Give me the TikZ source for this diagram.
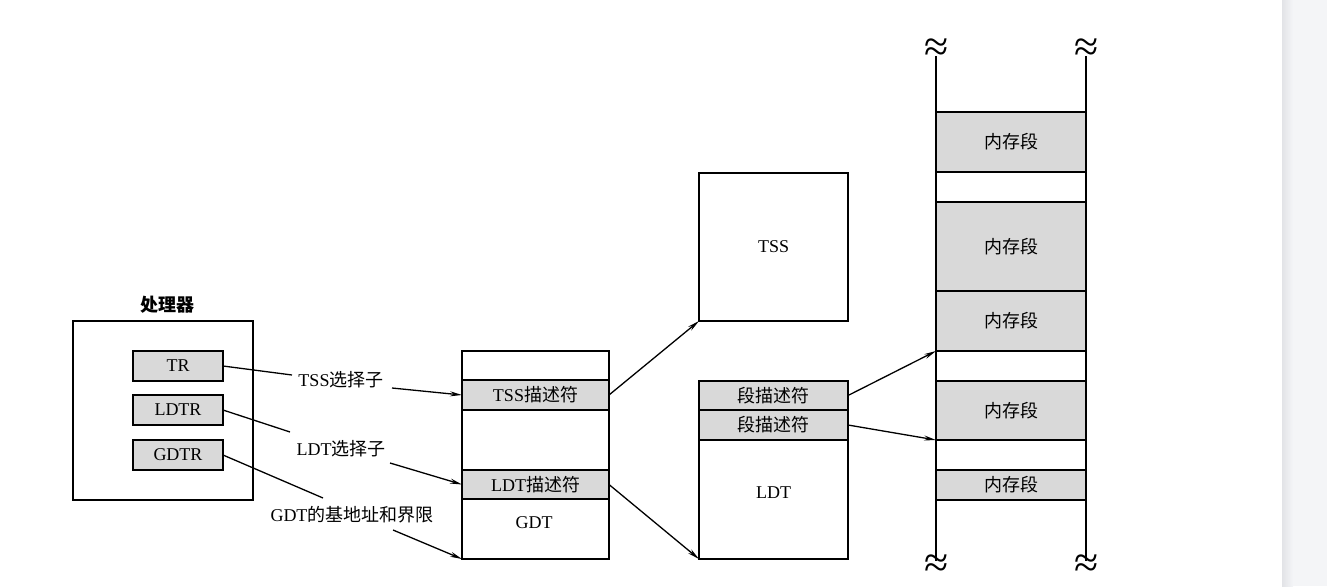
\documentclass[tikz,border=0pt]{standalone}
\usepackage{fontspec}
\setmainfont{Liberation Serif}
\newfontfamily\cjk{Noto Sans CJK SC}
\usetikzlibrary{arrows.meta}
\definecolor{segfill}{RGB}{217,217,217}
\definecolor{stripbg}{RGB}{244,245,247}
\definecolor{stripedge}{RGB}{226,227,231}
\begin{document}
\begin{tikzpicture}[x=1pt,y=-1pt,
  every node/.style={font=\rmfamily\fontsize{18}{21}\selectfont},
  box/.style={draw, line width=2pt, inner sep=0pt, outer sep=0pt},
  band/.style={draw, line width=1.4pt, fill=segfill, inner sep=0pt, outer sep=0pt},
  reg/.style={band, line width=2pt, minimum width=90pt, minimum height=30pt},
  lbl/.style={inner sep=0pt},
  memline/.style={line width=1.6pt},
  brk/.style={inner sep=0pt, font=\rmfamily\fontsize{44}{44}\selectfont},
  conn/.style={line width=1.3pt},
  arr/.style={conn, -{Stealth[length=12pt,width=5pt]}}]
\useasboundingbox (0,0) rectangle (1327,586);
\fill[white] (0,0) rectangle (1327,586);
% right grey strip
\shade[left color=stripedge, right color=stripbg] (1282,0) rectangle (1293,586);
\fill[stripbg] (1293,0) rectangle (1327,586);

% processor
\node[box, minimum width=180pt, minimum height=179pt] (proc) at (163,410.5) {};
\node[lbl] (proclbl) at (167,305) {\cjk\bfseries 处理器};
\node[reg] (tr) at (178,366) {TR};
\node[reg] (ldtr) at (178,410) {LDTR};
\node[reg] (gdtr) at (178,455) {GDTR};

% selector labels
\node[lbl] (tsssel) at (341,380) {TSS{\cjk 选择子}};
\node[lbl] (ldtsel) at (341,449) {LDT{\cjk 选择子}};
\node[lbl] (gdtlbl) at (352,515) {GDT{\cjk 的基地址和界限}};

% GDT
\node[band, minimum width=147pt, minimum height=30pt] (tssd) at (535.5,395) {TSS{\cjk 描述符}};
\node[band, minimum width=147pt, minimum height=29pt] (ldtd) at (535.5,484.5) {LDT{\cjk 描述符}};
\node[box, minimum width=147pt, minimum height=208pt] (gdt) at (535.5,455) {};
\node[lbl] (gdttxt) at (534,523) {GDT};

% TSS
\node[box, minimum width=149pt, minimum height=148pt] (tss) at (773.5,247) {TSS};

% LDT
\node[band, minimum width=149pt, minimum height=29pt] (sd1) at (773.5,395.5) {\cjk 段描述符};
\node[band, minimum width=149pt, minimum height=30pt] (sd2) at (773.5,425) {\cjk 段描述符};
\node[box, minimum width=149pt, minimum height=178pt] (ldt) at (773.5,470) {};
\node[lbl] (ldttxt) at (773.5,493) {LDT};

% memory column
\node[band, minimum width=150pt, minimum height=60pt] (m1) at (1011,142) {\cjk 内存段};
\node[band, minimum width=150pt, minimum height=89pt] (m2) at (1011,246.5) {\cjk 内存段};
\node[band, minimum width=150pt, minimum height=60pt] (m3) at (1011,321) {\cjk 内存段};
\node[band, minimum width=150pt, minimum height=59pt] (m4) at (1011,410.5) {\cjk 内存段};
\node[band, minimum width=150pt, minimum height=30pt] (m5) at (1011,485) {\cjk 内存段};
\coordinate (mlt) at (936,56);
\coordinate (mlb) at (936,561);
\coordinate (mrt) at (1086,56);
\coordinate (mrb) at (1086,561);
\draw[memline] (mlt) -- (mlb);
\draw[memline] (mrt) -- (mrb);
\node[brk] (b1) at (937,50) {≈};
\node[brk] (b2) at (1087,50) {≈};
\node[brk] (b3) at (937,566) {≈};
\node[brk] (b4) at (1087,566) {≈};

% connectors
\coordinate (c1) at (292,375);
\coordinate (c2) at (392,388);
\coordinate (c3) at (290,432);
\coordinate (c4) at (390,463);
\coordinate (c5) at (323,498);
\coordinate (c6) at (393,530);
\draw[conn] (tr.east) -- (c1);
\draw[arr] (c2) -- (tssd.west);
\draw[conn] (ldtr.east) -- (c3);
\draw[arr] (c4) -- (ldtd.west);
\draw[conn] (gdtr.east) -- (c5);
\draw[arr] (c6) -- (gdt.south west);
\draw[arr] (tssd.east) -- (tss.south west);
\draw[arr] (ldtd.east) -- (ldt.south west);
\draw[arr] (sd1.east) -- (m3.south west);
\draw[arr] (sd2.east) -- (m4.south west);
\end{tikzpicture}
\end{document}
